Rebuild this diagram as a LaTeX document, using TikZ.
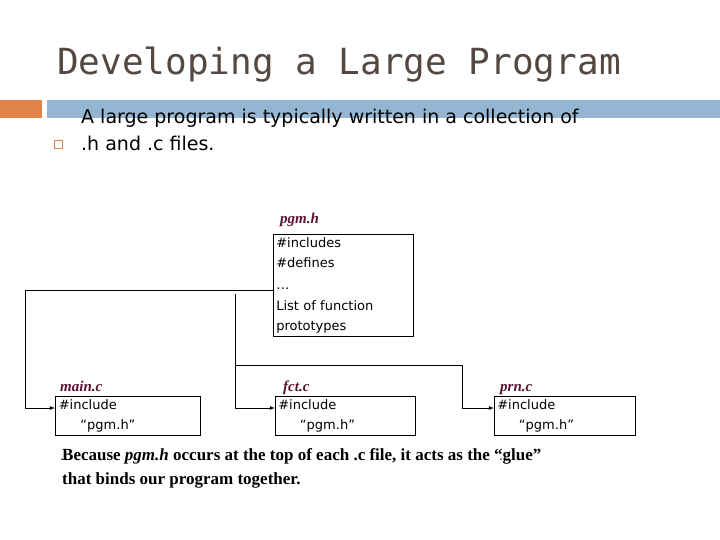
\documentclass[tikz,border=0pt]{standalone}
\usepackage{fontspec}
\setmainfont{Liberation Serif}
\newfontfamily\titlefont{DejaVu Sans Mono}
\newfontfamily\bodyfont{DejaVu Sans}
\usetikzlibrary{positioning, calc}
\definecolor{titlegray}{RGB}{84, 72, 66}
\definecolor{barorange}{RGB}{224, 132, 76}
\definecolor{barblue}{RGB}{148, 182, 210}
\definecolor{labelred}{RGB}{90, 20, 50}

\begin{document}
\begin{tikzpicture}[
			x=1pt, y=-1pt,
			filebox/.style={draw=black, semithick, anchor=north west, align=left, inner sep=3pt, text depth=, font=\bodyfont\fontsize{13}{20}\selectfont},
			filelabel/.style={anchor=base west, inner sep=0pt, text=labelred, font=\fontsize{15}{16}\selectfont\bfseries\itshape},
			dots/.style={anchor=base west, inner sep=0pt, font=\bodyfont\fontsize{12}{13}\selectfont},
			arrow/.style={thick,->,>=latex}
		]
		\useasboundingbox (0,0) rectangle (720,540);

		\node (title) [anchor=base west, inner sep=0pt, text=titlegray, font=\titlefont\fontsize{36}{40}\selectfont] at (57,75) {Developing a Large Program};
		\fill[barorange] (0,100) rectangle (42,118);
		\fill[barblue] (47,100) rectangle (720,118);
		\draw[barorange, thick] (54,140) rectangle (62,148);
		\node (intro) [anchor=base west, inner sep=0pt, align=left, font=\bodyfont\fontsize{19}{27}\selectfont] at (81,151) {A large program is typically written in a collection of\\.h and .c files.};

		\node (pgm) [filebox, text width=134pt] at (273,234) {\#includes\\\#defines\\[2pt]\ldots\\[1pt]List of function\\prototypes};
		\node (pgmlabel) [filelabel] at (280,223) {pgm.h};

		\node (main) [filebox, minimum width=145pt, text width=138pt] at (55,396) {\#include\\\quad\ \ “pgm.h”};
		\node (mainlabel) [filelabel] at (60,391) {main.c};
		\node (maindots) [dots] at (60,460) {\ldots};

		\node (fct) [filebox, text width=134pt] at (275,396) {\#include\\\quad\ \ “pgm.h”};
		\node (fctlabel) [filelabel] at (283,391) {fct.c};
		\node (fctdots) [dots] at (280,460) {\ldots};

		\node (prn) [filebox, text width=135pt] at (494,396) {\#include\\\quad\ \ “pgm.h”};
		\node (prnlabel) [filelabel] at (500,391) {prn.c};
		\node (prndots) [dots] at (499,460) {\ldots};

		\coordinate (split) at (235,294);
		\draw[arrow] (pgm.west |- 0,290) -- (25,290) |- (main.west |- 0,408);
		\draw[arrow] (split) |- (fct.west |- 0,408);
		\draw[arrow] (235,365) -| (462,408) -- (prn.west |- 0,408);

		\node (note) [anchor=base west, inner sep=0pt, align=left, font=\fontsize{17}{24}\selectfont\bfseries] at (62,484) {Because \textit{pgm.h} occurs at the top of each .c file, it acts as the “glue”\\that binds our program together.};
	\end{tikzpicture}
\end{document}
